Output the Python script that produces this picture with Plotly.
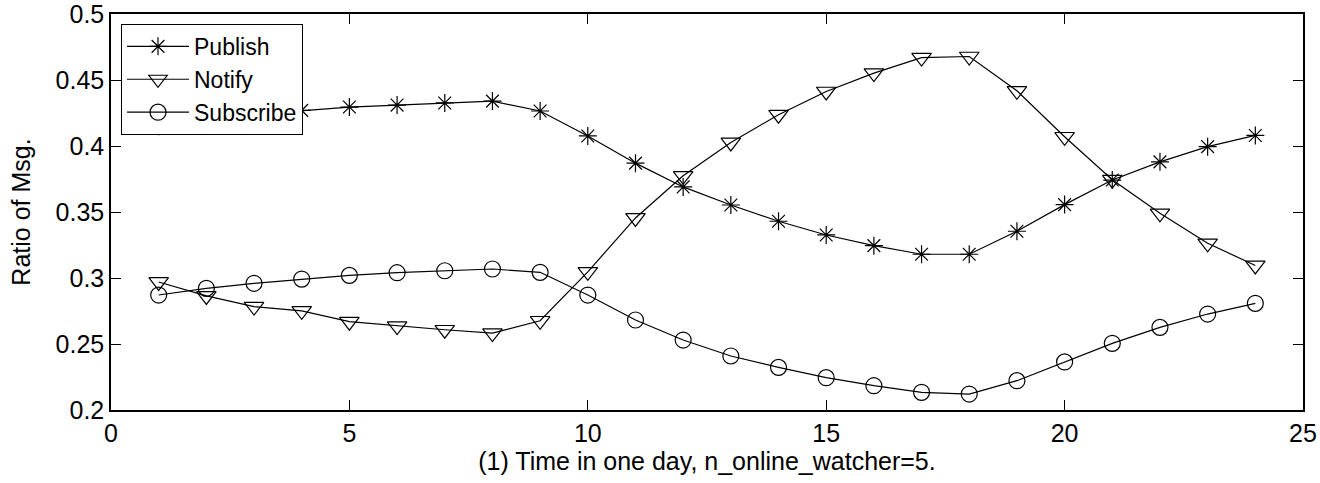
import plotly.graph_objects as go

hours = list(range(1, 25))
publish = [0.415, 0.420, 0.424, 0.427, 0.4295, 0.431, 0.4326, 0.434, 0.4265, 0.4076,
           0.387, 0.369, 0.3553, 0.343, 0.3326, 0.3245, 0.318, 0.318, 0.3354, 0.3556,
           0.3742, 0.388, 0.3995, 0.408]
notify = [0.297, 0.2864, 0.2783, 0.2751, 0.2669, 0.2636, 0.2608, 0.2583, 0.2676, 0.3047,
          0.3455, 0.3774, 0.4027, 0.4237, 0.4413, 0.4552, 0.467, 0.4678, 0.4418, 0.407,
          0.3745, 0.349, 0.3263, 0.3095]
subscribe = [0.2871, 0.2922, 0.296, 0.2992, 0.302, 0.304, 0.3055, 0.3068, 0.3043, 0.2871,
             0.2682, 0.253, 0.2409, 0.2323, 0.2245, 0.2184, 0.2134, 0.2121, 0.2222, 0.2364,
             0.2505, 0.2626, 0.2727, 0.2808]
x_ticks = [0, 5, 10, 15, 20, 25]
y_ticks = [0.2, 0.25, 0.3, 0.35, 0.4, 0.45, 0.5]
y_tick_labels = ["0.2", "0.25", "0.3", "0.35", "0.4", "0.45", "0.5"]

FONT = "Arial, Liberation Sans, Helvetica, sans-serif"
FS = 25

fig = go.Figure()
series = [
    ("Publish", publish, "asterisk-open", 15),
    ("Notify", notify, "triangle-down-open", 17),
    ("Subscribe", subscribe, "circle-open", 16),
]
for name, ys, sym, sz in series:
    fig.add_trace(go.Scatter(
        x=hours, y=ys, name=name, mode="lines+markers",
        line=dict(color="black", width=1.2),
        marker=dict(symbol=sym, size=sz, color="black", line=dict(color="black", width=1.2)),
    ))

fig.update_layout(
    width=1320, height=483,
    margin=dict(l=111, r=17, t=14, b=73, autoexpand=False),
    paper_bgcolor="white", plot_bgcolor="white",
    font=dict(family=FONT, size=FS, color="black"),
    showlegend=True,
    legend=dict(
        x=0.0084, y=0.975, xanchor="left", yanchor="top",
        bgcolor="white", bordercolor="black", borderwidth=1,
        font=dict(family=FONT, size=23, color="black"),
        itemwidth=62, tracegroupgap=0,
    ),
)
fig.update_xaxes(
    range=[0, 25], tickvals=x_ticks, ticktext=[str(v) for v in x_ticks],
    ticks="inside", ticklen=10, tickwidth=1, tickcolor="black",
    showline=True, linecolor="black", linewidth=1.5, mirror="ticks",
    showgrid=False, zeroline=False, automargin=False, ticklabeloverflow="allow",
    tickfont=dict(family=FONT, size=FS),
    title=dict(text="(1) Time in one day, n_online_watcher=5.", standoff=6,
               font=dict(family=FONT, size=FS)),
)
fig.update_yaxes(
    range=[0.2, 0.5], tickvals=y_ticks, ticktext=y_tick_labels,
    ticks="inside", ticklen=10, tickwidth=1, tickcolor="black",
    showline=True, linecolor="black", linewidth=1.5, mirror="ticks",
    showgrid=False, zeroline=False, automargin=False, ticklabeloverflow="allow",
    tickfont=dict(family=FONT, size=FS),
    title=dict(text="Ratio of Msg.", standoff=18, font=dict(family=FONT, size=FS)),
)

fig.write_html("out.html")
